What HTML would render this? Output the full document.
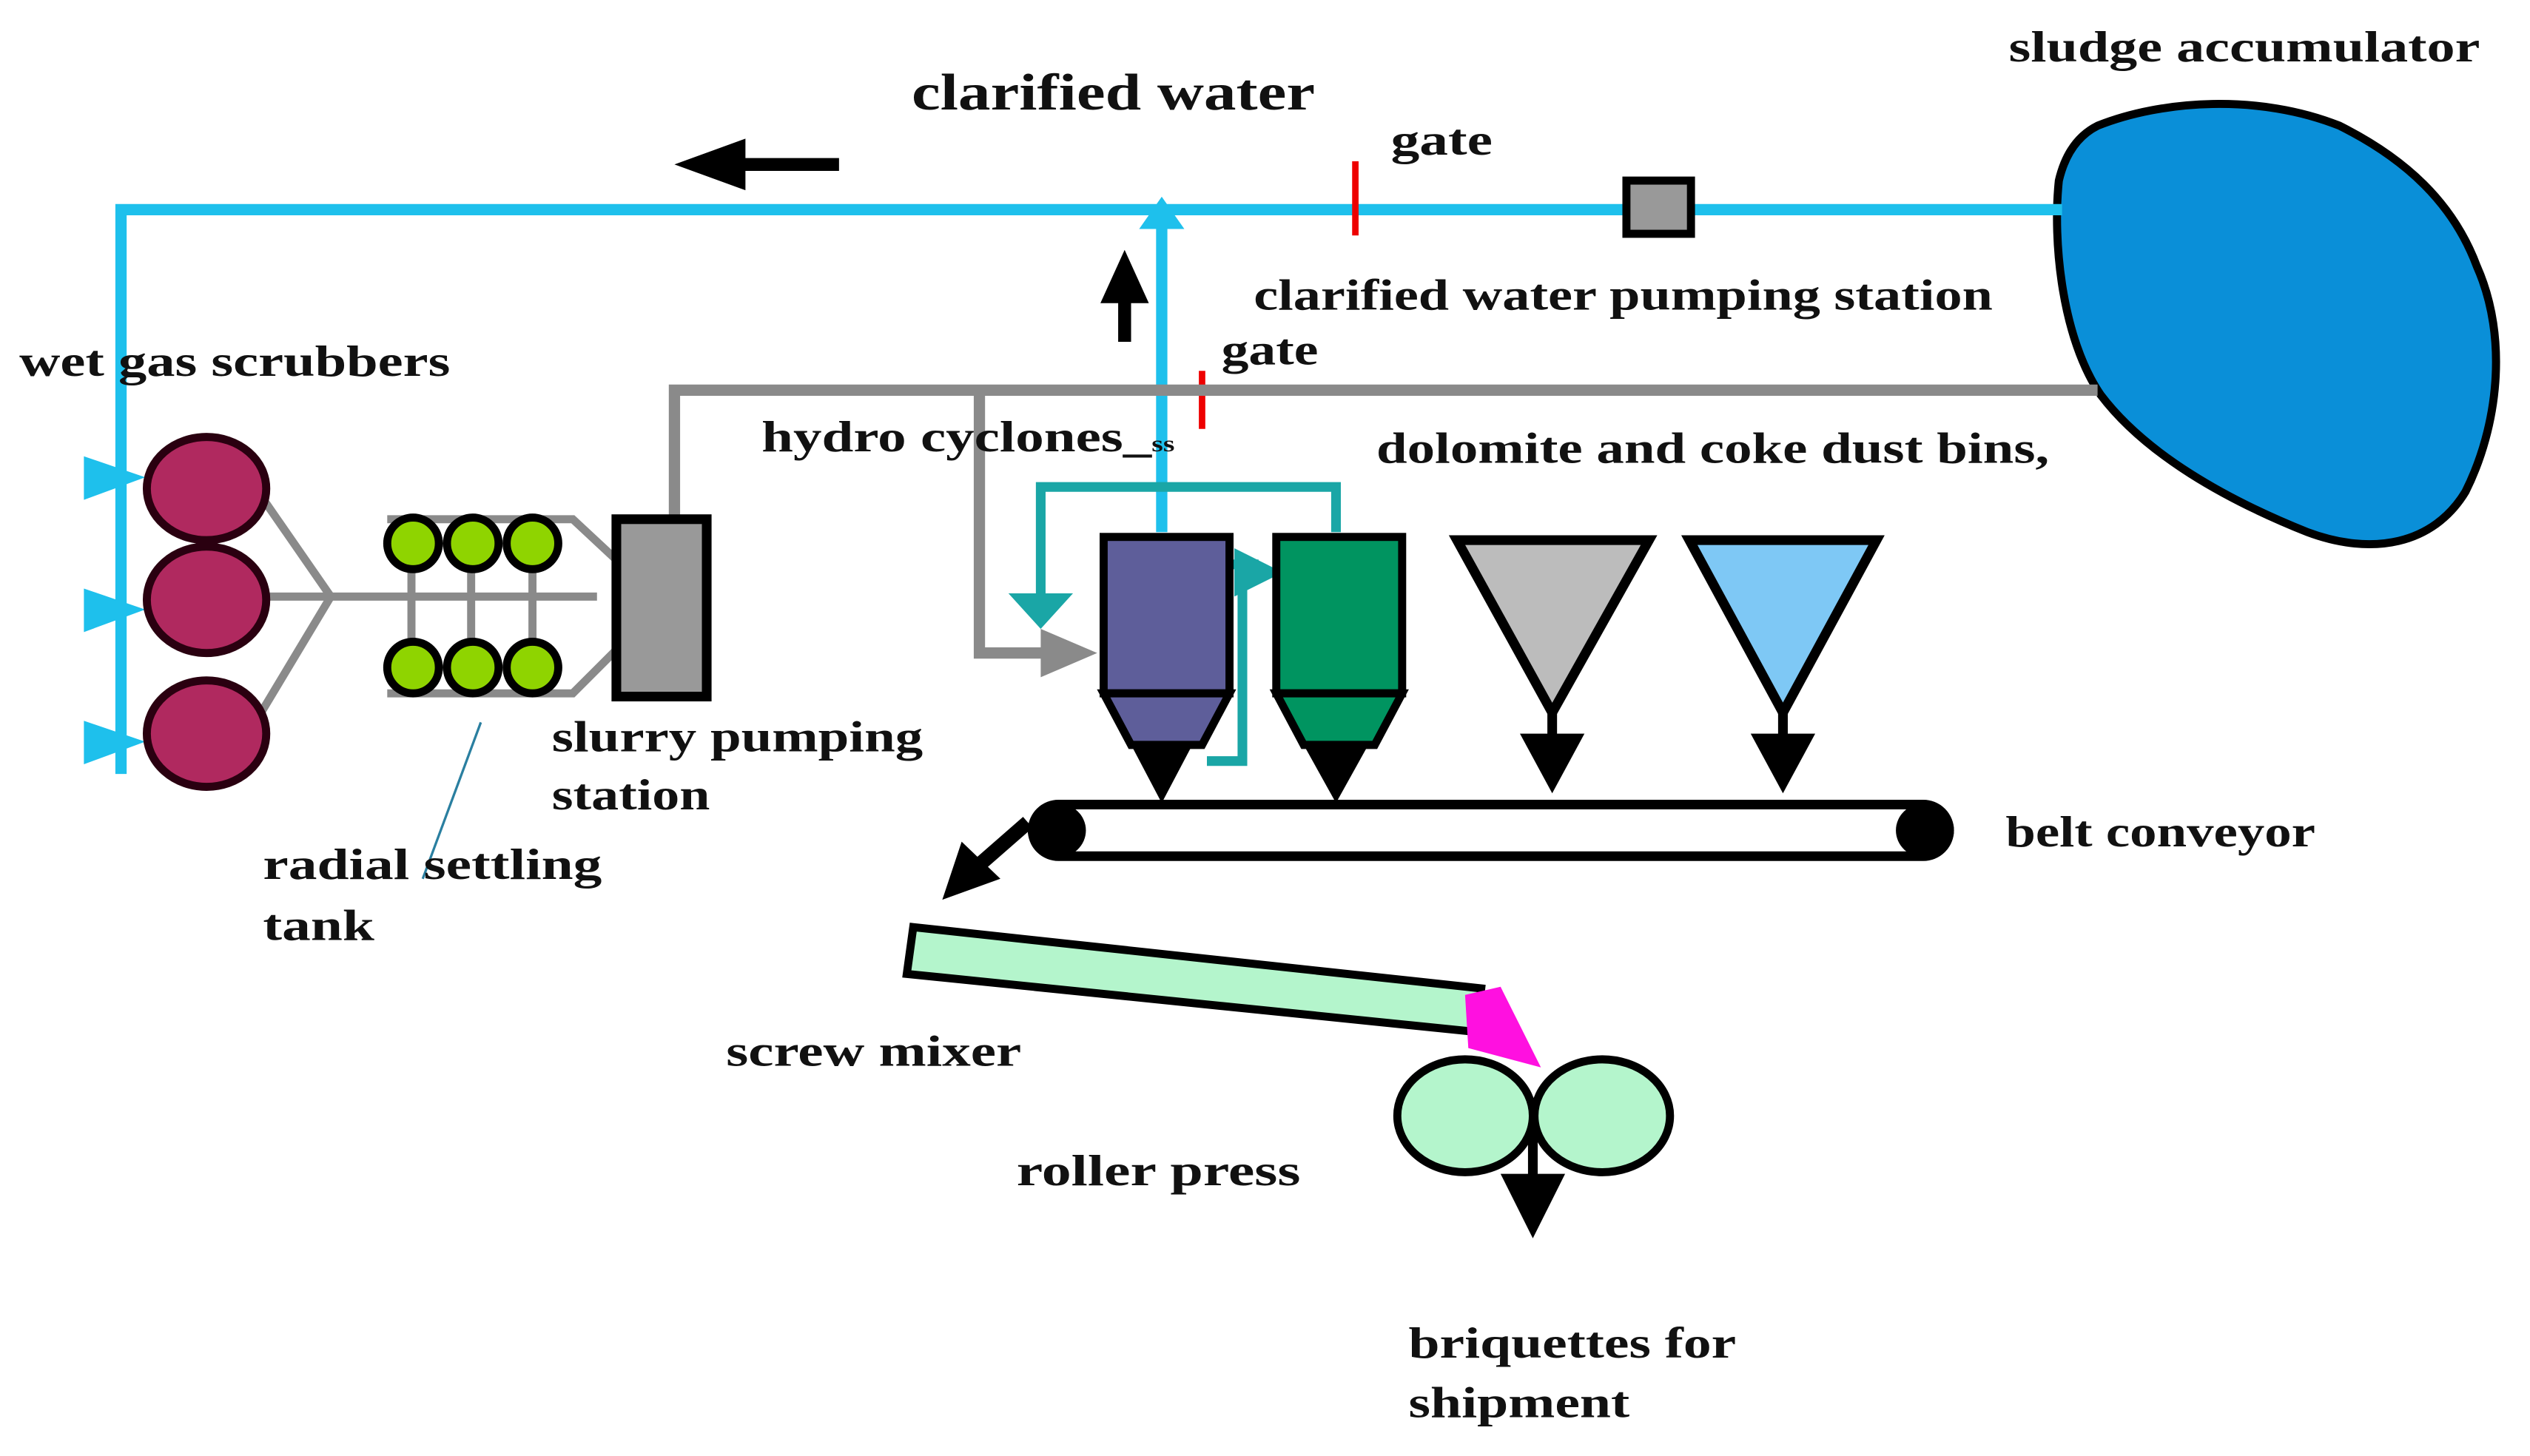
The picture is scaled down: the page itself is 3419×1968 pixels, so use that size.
<!DOCTYPE html>
<html><head><meta charset="utf-8"><style>
html,body{margin:0;padding:0;background:#fff;}
svg{display:block;}
text{font-family:"Liberation Serif",serif;font-weight:bold;fill:#111;}
</style></head><body>
<svg width="3419" height="1968" viewBox="0 0 1568 903" preserveAspectRatio="none" xmlns="http://www.w3.org/2000/svg">
<rect width="1568" height="903" fill="#fff"/>
<!-- sludge accumulator -->
<path d="M1300,78 C1340,62 1400,58 1450,78 C1490,98 1520,125 1535,165 C1555,210 1548,265 1528,305 C1508,338 1470,345 1430,330 C1380,310 1330,282 1302,245 C1278,210 1272,150 1276,112 C1280,95 1288,84 1300,78 Z" fill="#0a8fd8" stroke="#000" stroke-width="5"/>
<!-- cyan main line -->
<g stroke="#1ec0ec" fill="none" stroke-width="7">
<path d="M1278,130 H75 V480"/>
<path d="M720,330 V135"/>
</g>
<polygon points="706,142 720,122 734,142" fill="#1ec0ec"/>
<g fill="#1ec0ec">
<polygon points="52,283 52,310 90,296"/>
<polygon points="52,365 52,392 90,378"/>
<polygon points="52,447 52,474 90,460"/>
</g>
<!-- black arrows -->
<path d="M520,102 H455" stroke="#000" stroke-width="8"/>
<polygon points="418,102 462,86 462,118" fill="#000"/>
<path d="M697,212 V180" stroke="#000" stroke-width="8"/>
<polygon points="697,155 682,188 712,188" fill="#000"/>
<!-- gates -->
<path d="M840,100 V146" stroke="#e00" stroke-width="4"/>
<path d="M745,230 V266" stroke="#e00" stroke-width="4"/>
<!-- pump square -->
<rect x="1008" y="112" width="40" height="33" fill="#999" stroke="#000" stroke-width="5"/>
<!-- gray lines -->
<g stroke="#8a8a8a" fill="none" stroke-width="7">
<path d="M1300,242 H418 V320"/>
<path d="M607,242 V405 H650"/>
</g>
<polygon points="645,390 680,405 645,420" fill="#8a8a8a"/>
<!-- teal lines -->
<g stroke="#1aa6a6" fill="none" stroke-width="6">
<path d="M645,375 V302 H828 V330"/>
<path d="M763,350 H780"/>
<path d="M770,352 V472 H748"/>
</g>
<polygon points="625,368 665,368 645,390" fill="#1aa6a6"/>
<polygon points="765,340 795,355 765,370" fill="#1aa6a6"/>
<!-- hydrocyclones -->
<rect x="684" y="333" width="78" height="97" fill="#5e5e9a" stroke="#000" stroke-width="5"/>
<polygon points="684,430 762,430 745,462 701,462" fill="#5e5e9a" stroke="#000" stroke-width="5"/>
<rect x="791" y="333" width="78" height="97" fill="#009460" stroke="#000" stroke-width="5"/>
<polygon points="791,430 869,430 852,462 808,462" fill="#009460" stroke="#000" stroke-width="5"/>
<!-- bins -->
<polygon points="903,335 1022,335 962,442" fill="#bcbcbc" stroke="#000" stroke-width="6"/>
<polygon points="1047,335 1163,335 1105,442" fill="#7ec8f5" stroke="#000" stroke-width="6"/>
<!-- down arrows -->
<g fill="#000">
<polygon points="700,460 740,460 720,498"/>
<polygon points="808,462 848,462 828,498"/>
<polygon points="942,455 982,455 962,492"/>
<polygon points="1085,455 1125,455 1105,492"/>
</g>
<path d="M962,440 V460 M1105,440 V460" stroke="#000" stroke-width="6"/>
<!-- belt conveyor -->
<rect x="640" y="499" width="568" height="32" rx="16" fill="#fff" stroke="#000" stroke-width="6"/>
<ellipse cx="655" cy="515" rx="18" ry="17" fill="#000"/>
<ellipse cx="1193" cy="515" rx="18" ry="17" fill="#000"/>
<path d="M637,510 L605,538" stroke="#000" stroke-width="9"/>
<polygon points="584,558 596,522 620,545" fill="#000"/>
<!-- screw mixer -->
<polygon points="566,575 918,613 915,640 562,604" fill="#b4f5cc" stroke="#000" stroke-width="5"/>
<polygon points="908,617 930,612 955,662 910,650" fill="#ff10e0"/>
<!-- roller press -->
<ellipse cx="908" cy="692" rx="42" ry="35" fill="#b4f5cc" stroke="#000" stroke-width="5"/>
<ellipse cx="993" cy="692" rx="42" ry="35" fill="#b4f5cc" stroke="#000" stroke-width="5"/>
<path d="M950,700 V735" stroke="#000" stroke-width="6"/>
<polygon points="930,728 970,728 950,768" fill="#000"/>
<!-- scrubbers connections -->
<g stroke="#8a8a8a" fill="none" stroke-width="5">
<path d="M160,305 L205,370 L160,445"/>
<path d="M150,370 H370"/>
<path d="M240,322 H355 L385,350"/>
<path d="M240,430 H355 L385,400"/>
<path d="M255,340 V415 M292,340 V415 M330,340 V415"/>
</g>
<g fill="#b0295f" stroke="#2a0010" stroke-width="5">
<ellipse cx="128" cy="303" rx="37" ry="32"/>
<ellipse cx="128" cy="372" rx="37" ry="33"/>
<ellipse cx="128" cy="455" rx="37" ry="33"/>
</g>
<g fill="#8fd400" stroke="#000" stroke-width="5">
<circle cx="256" cy="337" r="16"/><circle cx="293" cy="337" r="16"/><circle cx="330" cy="337" r="16"/>
<circle cx="256" cy="414" r="16"/><circle cx="293" cy="414" r="16"/><circle cx="330" cy="414" r="16"/>
</g>
<rect x="382" y="322" width="56" height="110" fill="#999" stroke="#000" stroke-width="6"/>
<path d="M298,448 L262,545" stroke="#2a7fa0" stroke-width="1.5"/>
<!-- labels -->
<g lengthAdjust="spacingAndGlyphs">
<text x="565" y="68" font-size="32" textLength="250" lengthAdjust="spacingAndGlyphs">clarified water</text>
<text x="862" y="96" font-size="27" textLength="63" lengthAdjust="spacingAndGlyphs">gate</text>
<text x="1245" y="38" font-size="27" textLength="292" lengthAdjust="spacingAndGlyphs">sludge accumulator</text>
<text x="777" y="192" font-size="27" textLength="458" lengthAdjust="spacingAndGlyphs">clarified water pumping station</text>
<text x="757" y="226" font-size="27" textLength="60" lengthAdjust="spacingAndGlyphs">gate</text>
<text x="12" y="233" font-size="27" textLength="267" lengthAdjust="spacingAndGlyphs">wet gas scrubbers</text>
<text x="472" y="280" font-size="27" textLength="256" lengthAdjust="spacingAndGlyphs">hydro cyclones_<tspan font-size="14">ss</tspan></text>
<text x="853" y="287" font-size="27" textLength="417" lengthAdjust="spacingAndGlyphs">dolomite and coke dust bins,</text>
<text x="342" y="466" font-size="27" textLength="230" lengthAdjust="spacingAndGlyphs">slurry pumping</text>
<text x="342" y="502" font-size="27" textLength="98" lengthAdjust="spacingAndGlyphs">station</text>
<text x="1243" y="525" font-size="27" textLength="192" lengthAdjust="spacingAndGlyphs">belt conveyor</text>
<text x="163" y="545" font-size="27" textLength="210" lengthAdjust="spacingAndGlyphs">radial settling</text>
<text x="163" y="583" font-size="27" textLength="69" lengthAdjust="spacingAndGlyphs">tank</text>
<text x="450" y="661" font-size="27" textLength="183" lengthAdjust="spacingAndGlyphs">screw mixer</text>
<text x="630" y="735" font-size="27" textLength="176" lengthAdjust="spacingAndGlyphs">roller press</text>
<text x="873" y="842" font-size="27" textLength="203" lengthAdjust="spacingAndGlyphs">briquettes for</text>
<text x="873" y="879" font-size="27" textLength="137" lengthAdjust="spacingAndGlyphs">shipment</text>
</g>
</svg>
</body></html>
